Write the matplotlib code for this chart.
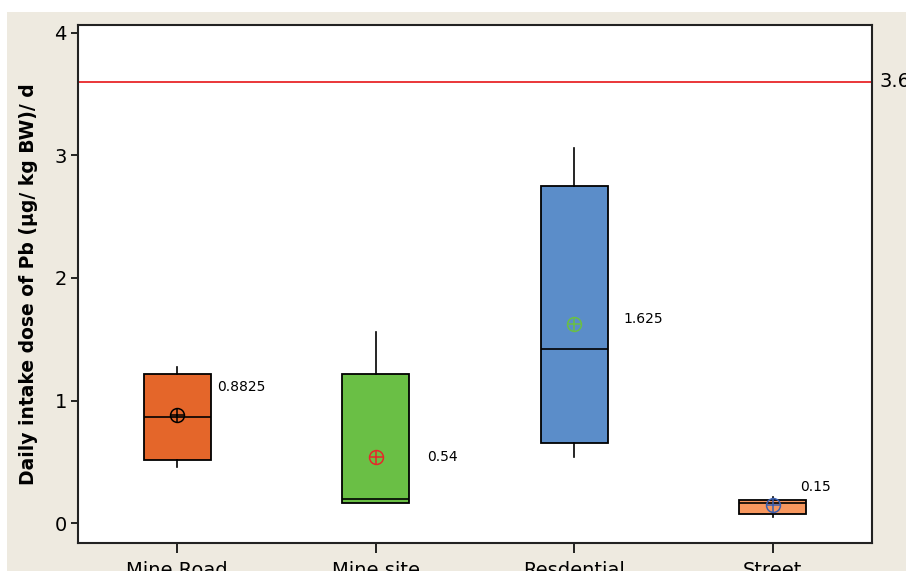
import matplotlib
matplotlib.use("Agg")
import matplotlib.pyplot as plt
from matplotlib.patches import Rectangle

categories = ["Mine Road", "Mine site", "Resdential", "Street"]
whisker_low = [0.457, 0.163, 0.539, 0.05]
q1 = [0.514, 0.163, 0.653, 0.073]
medians = [0.865, 0.196, 1.42, 0.163]
q3 = [1.216, 1.216, 2.75, 0.188]
whisker_high = [1.273, 1.559, 3.06, 0.21]
means = [0.8825, 0.54, 1.625, 0.15]
mean_labels = ["0.8825", "0.54", "1.625", "0.15"]
reference_value = 3.6
reference_label = "3.6"

box_colors = ["#E4662A", "#6ABF45", "#5B8DC9", "#F7975E"]
mean_colors = ["#000000", "#E8262A", "#6ABF45", "#3A5FB0"]
label_offsets = [(0.2, 0.23), (0.26, 0.0), (0.25, 0.04), (0.14, 0.145)]

fig = plt.figure(figsize=(9.06, 5.71), dpi=100, facecolor="white")
fig.patches.append(Rectangle((7/906, 0), 1, (571-12)/571, transform=fig.transFigure,
                             facecolor="#EEEAE0", edgecolor="none", zorder=-10))
ax = fig.add_axes([78/906, (571-543)/571, 794/906, 518/571])
ax.set_facecolor("white")

stats = []
for i in range(len(categories)):
    stats.append(dict(whislo=whisker_low[i], q1=q1[i], med=medians[i], q3=q3[i],
                      whishi=whisker_high[i], fliers=[], label=categories[i]))
positions = list(range(1, len(categories) + 1))
bp = ax.bxp(stats, positions=positions, widths=0.34, patch_artist=True,
            showcaps=False, showfliers=False,
            boxprops=dict(edgecolor="black", linewidth=1.3),
            medianprops=dict(color="black", linewidth=1.2),
            whiskerprops=dict(color="black", linewidth=1.2))
for patch, c in zip(bp["boxes"], box_colors):
    patch.set_facecolor(c)

for i, p in enumerate(positions):
    ax.plot(p, means[i], marker="o", markersize=10, markerfacecolor="none",
            markeredgecolor=mean_colors[i], markeredgewidth=1.1, zorder=5)
    ax.plot(p, means[i], marker="+", markersize=10, color=mean_colors[i],
            markeredgewidth=1.1, zorder=5)
    dx, dy = label_offsets[i]
    ax.text(p + dx, means[i] + dy, mean_labels[i], fontsize=10, va="center", ha="left")

ax.axhline(reference_value, color="#E8262A", linewidth=1.3)
ax.text(1.01, reference_value, reference_label, transform=ax.get_yaxis_transform(),
        fontsize=14, va="center", ha="left", clip_on=False)

ax.set_xlim(0.5, 4.5)
ax.set_ylim(-0.163, 4.065)
ax.set_yticks([0, 1, 2, 3, 4])
ax.set_xticks(positions)
ax.set_xticklabels(categories, fontsize=14)
ax.tick_params(axis="y", labelsize=14, length=5, width=1.2, pad=3)
ax.tick_params(axis="x", length=7, width=1.2, pad=6)
for s in ax.spines.values():
    s.set_linewidth(1.5)
    s.set_color("#222222")

ax.set_ylabel("Daily intake dose of Pb (µg/ kg BW)/ d", fontsize=13.5,
              fontweight="bold", labelpad=12)

fig.savefig("out.png", dpi=100, facecolor=fig.get_facecolor())
